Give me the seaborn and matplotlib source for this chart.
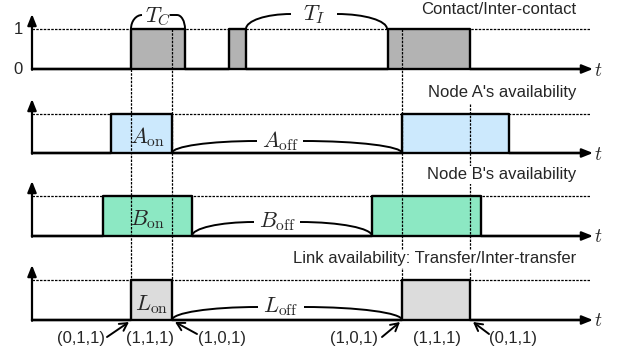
import numpy as np
import pandas as pd
import matplotlib
matplotlib.use("Agg")
import matplotlib.pyplot as plt
from matplotlib.path import Path
from matplotlib.patches import PathPatch
import seaborn as sns

# ---------------- data (event times along the t axis) ----------------
contact_start = [131, 229, 388]
contact_end = [185, 246, 470]
a_start = [111, 402]
a_end = [172, 509]
b_start = [103, 372]
b_end = [192, 481]
link_start = [131, 402]
link_end = [172, 470]

panel_titles = ["Contact/Inter-contact", "Node A's availability",
                "Node B's availability", "Link availability: Transfer/Inter-transfer"]
panel_fills = ["#b3b3b3", "#cce9fd", "#8ce8c3", "#dcdcdc"]
on_labels = [None, r"$A_{\rm on}$", r"$B_{\rm on}$", r"$L_{\rm on}$"]
off_labels = [None, r"$A_{\rm off}$", r"$B_{\rm off}$", r"$L_{\rm off}$"]
state_labels = ["(0,1,1)", "(1,1,1)", "(1,0,1)", "(1,0,1)", "(1,1,1)", "(0,1,1)"]
level_ticks = ["1", "0"]

# ---------------- style ----------------
sns.set_theme(style="white")
plt.rcParams["font.family"] = ["Liberation Sans", "DejaVu Sans"]
plt.rcParams["mathtext.fontset"] = "cm"

fig = plt.figure(figsize=(6.22, 3.58), dpi=100)
ax = fig.add_axes([0, 0, 1, 1])

T0, T1 = 32, 592
bases = [69, 153, 236, 320]
tops = [29, 114, 196, 280]
starts = [contact_start, a_start, b_start, link_start]
ends = [contact_end, a_end, b_end, link_end]

def step_trace(s_list, e_list, base, top):
    xs, ys = [T0], [base]
    for s, e in zip(s_list, e_list):
        xs += [s, s, e, e]
        ys += [base, top, top, base]
    xs.append(T1 - 4)
    ys.append(base)
    return xs, ys

def quarter(p0, p1, start_vertical=True):
    (x0, y0), (x1, y1) = p0, p1
    k = 0.552
    if start_vertical:
        c1 = (x0, y0 + k * (y1 - y0))
        c2 = (x1 - k * (x1 - x0), y1)
    else:
        c1 = (x0 + k * (x1 - x0), y0)
        c2 = (x1, y1 - k * (y1 - y0))
    return [p0, c1, c2, p1]

def curve(points_list):
    verts, codes = [], []
    for pts in points_list:
        verts += pts
        codes += [Path.MOVETO, Path.CURVE4, Path.CURVE4, Path.CURVE4]
    ax.add_patch(PathPatch(Path(verts, codes), fill=False, lw=1.4,
                           edgecolor="black", zorder=4))

arrow_kw = dict(arrowstyle="-|>,head_length=0.55,head_width=0.22",
                lw=1.6, color="black", shrinkA=0, shrinkB=0)

for i in range(4):
    base, top = bases[i], tops[i]
    # dotted "on" level
    ax.plot([T0, T1 - 2], [top, top], ls=(0, (2, 1)), lw=0.9,
            color="black", zorder=1)
    # filled on-intervals
    for s, e in zip(starts[i], ends[i]):
        ax.fill_between([s, e], base, top, color=panel_fills[i], zorder=2, lw=0)
    # signal outline through seaborn
    xs, ys = step_trace(starts[i], ends[i], base, top)
    df = pd.DataFrame({"t": xs, "level": ys})
    sns.lineplot(data=df, x="t", y="level", sort=False, estimator=None,
                 color="black", lw=1.7, ax=ax, zorder=5)
    sns.lineplot(x=[T0, T1 - 4], y=[base, base], sort=False, estimator=None,
                 color="black", lw=1.7, ax=ax, zorder=5)
    # axes arrows
    ax.annotate("", xy=(T1 + 1, base), xytext=(T1 - 6, base),
                arrowprops=arrow_kw, zorder=6)
    ax.annotate("", xy=(T0, top - 15), xytext=(T0, base + 0.8),
                arrowprops=arrow_kw, zorder=6)
    ax.text(T1 + 6, base + 2, r"$t$", fontsize=14, ha="center", va="center")
    # panel title
    ax.text(576, top - 21 + (1 if i == 0 else 0), panel_titles[i], fontsize=12,
            ha="right", va="center", zorder=7,
            bbox=dict(facecolor="white", edgecolor="none", pad=1.0))

# level ticks on first panel
ax.text(18, tops[0], level_ticks[0], fontsize=12, ha="center", va="center")
ax.text(18, bases[0], level_ticks[1], fontsize=12, ha="center", va="center")

# vertical dashed guides
guides = [(contact_start[0], bases[0]), (contact_start[0] + 41, tops[0]),
          (link_start[1], tops[0]), (link_end[1], 104)]
for gx, gy in guides:
    ax.plot([gx, gx], [gy, tops[3]], ls=(0, (2, 1)), lw=0.9, color="black", zorder=3)

# T_C and T_I braces
curve([quarter((131, 29), (142, 15)),
       [(170, 15), (172, 15), (175, 15), (177, 15)],
       quarter((177, 15), (185, 29), start_vertical=False)])
ax.text(158, 17, r"$T_C$", fontsize=16, ha="center", va="center")
curve([quarter((246, 29), (291, 14)),
       quarter((337, 14), (387, 29), start_vertical=False)])
ax.text(314, 15, r"$T_I$", fontsize=16, ha="center", va="center")

# on labels
on_pos = [None, (147, 137), (147, 220), (152, 305)]
for i in range(1, 4):
    ax.text(*on_pos[i], on_labels[i], fontsize=16, ha="center", va="center", zorder=6)

# off arcs and labels
off_spec = [None,
            (a_end[0], a_start[1], 280, 141),
            (b_end[0], b_start[1], 277, 222),
            (link_end[0], link_start[1], 281, 307)]
for i in range(1, 4):
    x0, x1, lx, ly = off_spec[i]
    base = bases[i]
    curve([quarter((x0, base), (lx - 23, ly)),
           quarter((lx + 23, ly), (x1, base), start_vertical=False)])
    ax.text(lx, ly, off_labels[i], fontsize=16, ha="center", va="center")

# state labels with arrows
state_x = [81, 150, 222, 354, 437, 513]
for lab, sx in zip(state_labels, state_x):
    ax.text(sx, 339, lab, fontsize=12, ha="center", va="center")
arrows = [((107, 337), (129, 322)), ((197, 334), (175, 322)),
          ((382, 337), (400, 322)), ((489, 334), (473, 322))]
for tail, tip in arrows:
    ax.annotate("", xy=tip, xytext=tail,
                arrowprops=dict(arrowstyle="->,head_length=0.45,head_width=0.25",
                                lw=1.4, color="black", shrinkA=0, shrinkB=0))

ax.set_xlim(0, 622)
ax.set_ylim(358, 0)
ax.axis("off")
fig.savefig("out.png", dpi=100)
